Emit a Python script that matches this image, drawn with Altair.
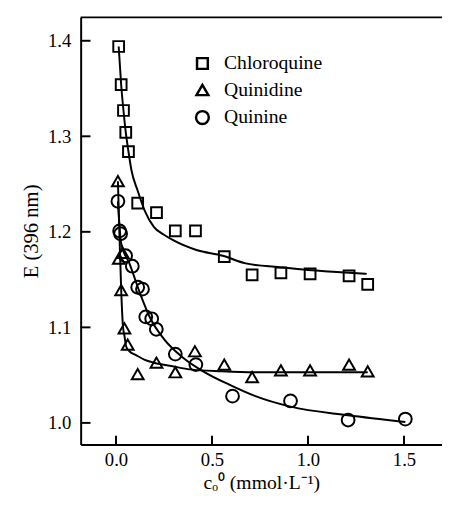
import altair as alt
import pandas as pd

# ---- data ----
series_names = ["Chloroquine", "Quinidine", "Quinine"]

chl_x = [0.014, 0.027, 0.039, 0.051, 0.065, 0.113, 0.211, 0.309, 0.414, 0.564, 0.709, 0.859, 1.011, 1.214, 1.311]
chl_y = [1.394, 1.354, 1.327, 1.304, 1.284, 1.230, 1.220, 1.201, 1.201, 1.174, 1.155, 1.157, 1.156, 1.154, 1.145]

qd_x = [0.010, 0.015, 0.035, 0.027, 0.044, 0.061, 0.113, 0.211, 0.309, 0.411, 0.564, 0.709, 0.859, 1.011, 1.214, 1.311]
qd_y = [1.253, 1.172, 1.178, 1.139, 1.099, 1.082, 1.051, 1.063, 1.053, 1.075, 1.061, 1.048, 1.055, 1.055, 1.061, 1.054]

qn_x = [0.010, 0.019, 0.024, 0.050, 0.085, 0.113, 0.138, 0.155, 0.186, 0.210, 0.309, 0.416, 0.607, 0.909, 1.209, 1.507]
qn_y = [1.232, 1.201, 1.198, 1.175, 1.164, 1.142, 1.140, 1.111, 1.109, 1.098, 1.072, 1.061, 1.028, 1.023, 1.003, 1.004]

# fitted curves
chl_fx = [0.014, 0.027, 0.039, 0.051, 0.065, 0.08, 0.113, 0.15, 0.198, 0.25, 0.30, 0.419, 0.556, 0.675, 0.85, 1.0, 1.15, 1.306]
chl_fy = [1.394, 1.354, 1.327, 1.304, 1.284, 1.265, 1.243, 1.222, 1.205, 1.197, 1.191, 1.181, 1.175, 1.167, 1.163, 1.160, 1.158, 1.156]

qd_fx = [0.010, 0.019, 0.027, 0.036, 0.045, 0.053, 0.07, 0.104, 0.15, 0.198, 0.30, 0.385, 0.55, 0.726, 1.0, 1.311]
qd_fy = [1.253, 1.191, 1.140, 1.102, 1.090, 1.080, 1.075, 1.071, 1.066, 1.063, 1.059, 1.056, 1.054, 1.053, 1.053, 1.053]

qn_fx = [0.010, 0.027, 0.07, 0.13, 0.18, 0.249, 0.351, 0.454, 0.59, 0.726, 0.909, 1.209, 1.507]
qn_fy = [1.232, 1.188, 1.167, 1.133, 1.109, 1.088, 1.068, 1.054, 1.040, 1.028, 1.017, 1.008, 1.001]

x_ticks = [0.0, 0.5, 1.0, 1.5]
y_ticks = [1.0, 1.1, 1.2, 1.3, 1.4]

X_DOM = [-0.184, 1.698]
Y_DOM = [0.9774, 1.4245]
W, H = 368, 435
FONT = "Liberation Serif"

pts = pd.concat([
    pd.DataFrame({"x": chl_x, "y": chl_y, "series": series_names[0]}),
    pd.DataFrame({"x": qd_x, "y": qd_y, "series": series_names[1]}),
    pd.DataFrame({"x": qn_x, "y": qn_y, "series": series_names[2]}),
])
fits = pd.concat([
    pd.DataFrame({"x": chl_fx, "y": chl_fy, "series": series_names[0]}),
    pd.DataFrame({"x": qd_fx, "y": qd_fy, "series": series_names[1]}),
    pd.DataFrame({"x": qn_fx, "y": qn_fy, "series": series_names[2]}),
])

xs = alt.Scale(domain=X_DOM, nice=False, zero=False)
ys = alt.Scale(domain=Y_DOM, nice=False, zero=False)

x_axis = alt.Axis(values=x_ticks, format=".1f", ticks=False, grid=False,
                  labelPadding=6, labelFont=FONT, labelFontSize=19, labelColor="black",
                  domainColor="black", domainWidth=2,
                  title="cₒ⁰ (mmol·L⁻¹)", titleFont=FONT, titleFontSize=20,
                  titleFontWeight="normal", titleColor="black", titlePadding=4)
y_axis = alt.Axis(values=y_ticks, format=".1f", ticks=False, grid=False,
                  labelPadding=10, labelFont=FONT, labelFontSize=19, labelColor="black",
                  domainColor="black", domainWidth=2,
                  title="E (396 nm)", titleFont=FONT, titleFontSize=21,
                  titleFontWeight="normal", titleColor="black", titlePadding=6)

X = alt.X("x:Q", scale=xs, axis=x_axis)
Y = alt.Y("y:Q", scale=ys, axis=y_axis)

legend = alt.Legend(title=None, orient="none", legendX=114, legendY=37,
                    labelFont=FONT, labelFontSize=20, labelColor="black",
                    symbolStrokeWidth=2.5, symbolStrokeColor="black",
                    labelOffset=12, rowPadding=5)

lines = alt.Chart(fits).mark_line(color="black", strokeWidth=2, interpolate="monotone").encode(
    x=X, y=Y, detail="series:N",
)

points = alt.Chart(pts).mark_point(filled=False, color="black", strokeWidth=2, opacity=1).encode(
    x=X, y=Y,
    shape=alt.Shape("series:N",
                    scale=alt.Scale(domain=series_names, range=["square", "triangle-up", "circle"]),
                    legend=legend),
    size=alt.Size("series:N",
                  scale=alt.Scale(domain=series_names, range=[120, 170, 125]),
                  legend=legend),
)

yt = alt.Chart(pd.DataFrame({"y": y_ticks})).mark_rule(color="black", strokeWidth=2).encode(
    y=Y, x=alt.value(0), x2=alt.value(10))
xt = alt.Chart(pd.DataFrame({"x": x_ticks})).mark_rule(color="black", strokeWidth=2).encode(
    x=X, y=alt.value(H), y2=alt.value(H - 9))
top = alt.Chart(pd.DataFrame({"v": [0]})).mark_rule(color="black", strokeWidth=2).encode(
    x=alt.value(0), x2=alt.value(W), y=alt.value(0))

chart = alt.layer(lines, points, yt, xt, top).properties(
    width=W, height=H,
    autosize=alt.AutoSizeParams(type="none"),
    padding={"left": 74, "top": 5, "right": 0, "bottom": 52},
).configure_view(stroke=None)

chart.save("out.html", embed_options={"renderer": "svg", "actions": False})
